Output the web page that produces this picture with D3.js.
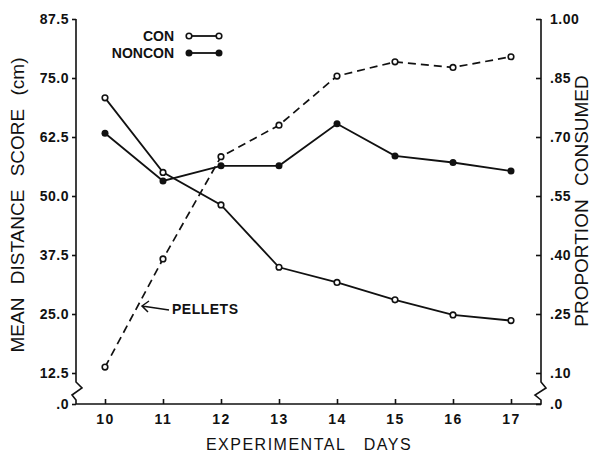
<!DOCTYPE html>
<html>
<head>
<meta charset="utf-8">
<script src="https://cdn.jsdelivr.net/npm/d3@7"></script>
<style>
  body { margin: 0; background: #fff; }
  svg { display: block; }
  text { font-family: "Liberation Sans", Arial, sans-serif; fill: #111; }
</style>
</head>
<body>
<svg id="chart"></svg>
<script>
// data
const days = [10, 11, 12, 13, 14, 15, 16, 17];
const con = [70.8, 55.0, 48.1, 34.9, 31.7, 28.0, 24.8, 23.6];       // mean distance (cm)
const noncon = [63.3, 53.2, 56.4, 56.4, 65.3, 58.5, 57.1, 55.3];    // mean distance (cm)
const pellets = [0.115, 0.39, 0.65, 0.73, 0.855, 0.891, 0.877, 0.904]; // proportion consumed

const leftTicks = [0, 12.5, 25, 37.5, 50, 62.5, 75, 87.5];
const leftLabels = [".0", "12.5", "25.0", "37.5", "50.0", "62.5", "75.0", "87.5"];
const rightTicks = [0, 0.10, 0.25, 0.40, 0.55, 0.70, 0.85, 1.00];
const rightLabels = [".0", ".10", ".25", ".40", ".55", ".70", ".85", "1.00"];

const width = 601, height = 453;
const axL = 76, axR = 541, axB = 404, axT = 19;

const svg = d3.select("#chart")
  .attr("width", width)
  .attr("height", height)
  .attr("viewBox", [0, 0, width, height]);

// x scale
const x = d3.scaleLinear().domain([10, 17]).range([105, 511]);

// broken y scales: a short gap between 0 and the first real tick
const y = d3.scaleLinear().domain([0, 12.5, 87.5]).range([axB, 373, axT]);
const y2 = d3.scaleLinear().domain([0, 0.10, 1.00]).range([axB, 373, axT]);

const ink = "#111";

// axis lines with zigzag breaks
const axisLine = d3.line();
svg.append("path")
  .attr("d", axisLine([[axL, axT], [axL, 382], [82, 388], [72, 395], [axL, 400], [axL, axB], [axR, axB],
                       [axR, 400], [535, 395], [546, 388], [axR, 382], [axR, axT]]))
  .attr("fill", "none")
  .attr("stroke", ink)
  .attr("stroke-width", 1.6);

// left axis
const yAxis = g => g
  .attr("transform", `translate(${axL},0)`)
  .call(d3.axisLeft(y).tickValues(leftTicks).tickSize(4).tickPadding(3)
    .tickFormat((d, i) => leftLabels[i]))
  .call(g => g.select(".domain").remove())
  .call(g => g.selectAll(".tick line").attr("stroke", ink).attr("stroke-width", 1.6))
  .call(g => g.selectAll(".tick text")
    .attr("font-size", 14).attr("font-weight", "bold").attr("letter-spacing", 0.5)
    .attr("font-family", "Liberation Sans, Arial, sans-serif").attr("fill", ink));

// right axis: ticks drawn inward, labels outside
const y2Axis = g => g
  .attr("transform", `translate(${axR},0)`)
  .call(d3.axisRight(y2).tickValues(rightTicks).tickSize(-5).tickPadding(9)
    .tickFormat((d, i) => rightLabels[i]))
  .call(g => g.select(".domain").remove())
  .call(g => g.selectAll(".tick line").attr("stroke", ink).attr("stroke-width", 1.6))
  .call(g => g.selectAll(".tick text")
    .attr("font-size", 14).attr("font-weight", "bold").attr("letter-spacing", 0.5)
    .attr("font-family", "Liberation Sans, Arial, sans-serif").attr("fill", ink));

// bottom axis: ticks inward
const xAxis = g => g
  .attr("transform", `translate(0,${axB})`)
  .call(d3.axisBottom(x).tickValues(days).tickSize(-5).tickPadding(10).tickFormat(d3.format("d")))
  .call(g => g.select(".domain").remove())
  .call(g => g.selectAll(".tick line").attr("stroke", ink).attr("stroke-width", 1.6))
  .call(g => g.selectAll(".tick text")
    .attr("font-size", 14).attr("font-weight", "bold").attr("letter-spacing", 1.5)
    .attr("font-family", "Liberation Sans, Arial, sans-serif").attr("fill", ink));

svg.append("g").call(yAxis);
svg.append("g").call(y2Axis);
svg.append("g").call(xAxis);

// axis titles
svg.append("text")
  .attr("transform", `translate(24,205) rotate(-90)`)
  .attr("text-anchor", "middle")
  .attr("font-size", 19)
  .attr("word-spacing", 8)
  .text("MEAN DISTANCE SCORE (cm)");

svg.append("text")
  .attr("transform", `translate(588,201) rotate(-90)`)
  .attr("text-anchor", "middle")
  .attr("font-size", 19)
  .attr("word-spacing", 8)
  .text("PROPORTION CONSUMED");

svg.append("text")
  .attr("x", 309)
  .attr("y", 450)
  .attr("text-anchor", "middle")
  .attr("font-size", 16)
  .attr("letter-spacing", 1.5)
  .attr("word-spacing", 12)
  .text("EXPERIMENTAL DAYS");

// series
const lineDist = d3.line().x((d, i) => x(days[i])).y(d => y(d));
const lineProp = d3.line().x((d, i) => x(days[i])).y(d => y2(d));

svg.append("path")
  .datum(pellets)
  .attr("d", lineProp)
  .attr("fill", "none")
  .attr("stroke", ink)
  .attr("stroke-width", 1.7)
  .attr("stroke-dasharray", "8,5");

svg.append("path")
  .datum(con)
  .attr("d", lineDist)
  .attr("fill", "none")
  .attr("stroke", ink)
  .attr("stroke-width", 1.8);

svg.append("path")
  .datum(noncon)
  .attr("d", lineDist)
  .attr("fill", "none")
  .attr("stroke", ink)
  .attr("stroke-width", 1.8);

svg.append("g")
  .selectAll("circle")
  .data(pellets)
  .join("circle")
  .attr("cx", (d, i) => x(days[i]))
  .attr("cy", d => y2(d))
  .attr("r", 2.8)
  .attr("fill", "#fff")
  .attr("stroke", ink)
  .attr("stroke-width", 1.6);

svg.append("g")
  .selectAll("circle")
  .data(con)
  .join("circle")
  .attr("cx", (d, i) => x(days[i]))
  .attr("cy", d => y(d))
  .attr("r", 2.8)
  .attr("fill", "#fff")
  .attr("stroke", ink)
  .attr("stroke-width", 1.6);

svg.append("g")
  .selectAll("circle")
  .data(noncon)
  .join("circle")
  .attr("cx", (d, i) => x(days[i]))
  .attr("cy", d => y(d))
  .attr("r", 3.5)
  .attr("fill", ink);

// legend
const legend = svg.append("g");
[["CON", false, 36], ["NONCON", true, 53]].forEach(([name, filled, ly]) => {
  legend.append("text")
    .attr("x", 174).attr("y", ly + 5)
    .attr("text-anchor", "end")
    .attr("font-size", 14).attr("font-weight", "bold")
    .text(name);
  legend.append("line")
    .attr("x1", 189).attr("x2", 219).attr("y1", ly).attr("y2", ly)
    .attr("stroke", ink).attr("stroke-width", 1.8);
  [189, 219].forEach(cx => {
    legend.append("circle")
      .attr("cx", cx).attr("cy", ly)
      .attr("r", filled ? 3.5 : 2.8)
      .attr("fill", filled ? ink : "#fff")
      .attr("stroke", ink).attr("stroke-width", filled ? 0 : 1.6);
  });
});

// PELLETS annotation with arrow
svg.append("text")
  .attr("x", 172).attr("y", 314)
  .attr("font-size", 14).attr("font-weight", "bold")
  .attr("letter-spacing", 0.5)
  .text("PELLETS");
svg.append("path")
  .attr("d", "M169,310 L142,306 M149,301 L142,306 L148,312")
  .attr("fill", "none")
  .attr("stroke", ink)
  .attr("stroke-width", 1.5);
</script>
</body>
</html>
